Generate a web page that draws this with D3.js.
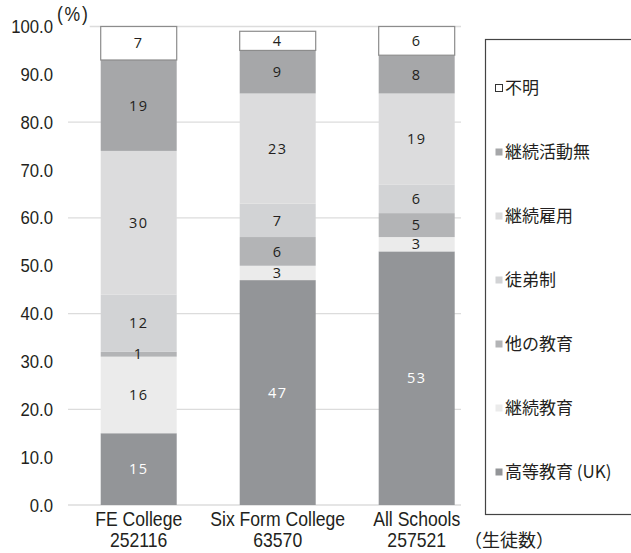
<!DOCTYPE html>
<html>
<head>
<meta charset="utf-8">
<script src="https://cdn.jsdelivr.net/npm/d3@7"></script>
<style>
  html, body { margin: 0; padding: 0; background: #fff; }
  svg { display: block; }
</style>
</head>
<body>
<svg id="chart" width="631" height="553"></svg>
<script>
// Destinations of students by type of institution (percent)
const categories = ["FE College", "Six Form College", "All Schools"];
const studentCounts = ["252116", "63570", "257521"];

// Series, stacked bottom to top
const seriesNames = ["高等教育 (UK)", "継続教育", "他の教育", "徒弟制", "継続雇用", "継続活動無", "不明"];
const higherEducation = [15, 47, 53];
const furtherEducation = [16, 3, 3];
const otherEducation = [1, 6, 5];
const apprenticeship = [12, 7, 6];
const sustainedEmployment = [30, 23, 19];
const noSustainedActivity = [19, 9, 8];
const unknownDest = [7, 4, 6];

const yTickValues = [0, 10, 20, 30, 40, 50, 60, 70, 80, 90, 100];
const gridValues = [0, 20, 40, 60, 80, 100];

const seriesValues = [higherEducation, furtherEducation, otherEducation, apprenticeship,
                      sustainedEmployment, noSustainedActivity, unknownDest];
const fills = ["#939598", "#ebebeb", "#b3b4b6", "#d2d3d5", "#dcdcdd", "#a6a7a9", "#ffffff"];
const labelColors = ["#ffffff", "#231f20", "#231f20", "#231f20", "#231f20", "#231f20", "#231f20"];

const rows = categories.map((c, i) => {
  const r = { category: c };
  seriesNames.forEach((s, k) => { r[s] = seriesValues[k][i]; });
  return r;
});

const svg = d3.select("#chart");
const textColor = "#231f20";
const sansFont = "'Liberation Sans', Arial, sans-serif";
const condense = "scale(0.88,1)";   // condensed look for the Latin axis text

const plotLeft = 68, gridRight = 461;
const x = d3.scaleBand()
  .domain(categories)
  .range([plotLeft, 487.4])
  .paddingInner(0.4532)
  .paddingOuter(0.2353);
const y = d3.scaleLinear().domain([0, 100]).range([505, 26.5]);

// Unit label (drawn first so the top gridline can start after it)
const unitGroup = svg.append("g").attr("transform", "translate(57,21)");
const unitLabel = unitGroup.append("text")
  .attr("transform", condense)
  .attr("fill", textColor)
  .attr("font-family", sansFont)
  .attr("font-size", 20)
  .attr("letter-spacing", 2)
  .text("(%)");
const unitBox = unitGroup.node().getBBox();
const topLineStart = 57 + (unitBox.x + unitBox.width) * 0.88 + 4;

// Horizontal gridlines
svg.insert("g", "g")
  .selectAll("line")
  .data(gridValues)
  .join("line")
  .attr("x1", d => d === 100 ? topLineStart : plotLeft)
  .attr("x2", gridRight)
  .attr("y1", d => y(d))
  .attr("y2", d => y(d))
  .attr("stroke", "#dcdcdc")
  .attr("stroke-width", 1.3);

// Y axis tick labels (no axis line)
const yAxis = d3.axisLeft(y)
  .tickValues(yTickValues)
  .tickFormat(d3.format(".1f"))
  .tickSize(0)
  .tickPadding(0);
const yg = svg.append("g")
  .attr("transform", "translate(53,0)")
  .call(yAxis);
yg.select(".domain").remove();
yg.selectAll("text")
  .attr("transform", condense)
  .attr("fill", textColor)
  .attr("font-family", sansFont)
  .attr("font-size", 19);

// Stacked bars
const stack = d3.stack().keys(seriesNames);
const stacked = stack(rows);

const layers = svg.append("g")
  .selectAll("g")
  .data(stacked)
  .join("g")
  .attr("fill", (d, i) => fills[i]);

layers.selectAll("rect")
  .data((d, i) => d.map(p => ({ p, i })))
  .join("rect")
  .attr("x", d => x(d.p.data.category))
  .attr("width", x.bandwidth())
  .attr("y", d => y(d.p[1]))
  .attr("height", d => y(d.p[0]) - y(d.p[1]))
  .attr("stroke", d => d.i === 6 ? "#8c8c8c" : "none")
  .attr("stroke-width", 1.2);

// Value labels in the middle of each segment
const labelData = [];
stacked.forEach((layer, i) => {
  layer.forEach(p => {
    labelData.push({ cat: p.data.category, mid: (p[0] + p[1]) / 2, v: p[1] - p[0], i });
  });
});
svg.append("g")
  .selectAll("text")
  .data(labelData)
  .join("text")
  .attr("x", d => x(d.cat) + x.bandwidth() / 2)
  .attr("y", d => y(d.mid))
  .attr("dy", "0.36em")
  .attr("text-anchor", "middle")
  .attr("font-family", "'Open Sans', sans-serif")
  .attr("font-size", 14.5)
  .attr("letter-spacing", 1.5)
  .attr("fill", d => labelColors[d.i])
  .text(d => d.v);

// Category labels with student counts
const xl = svg.append("g")
  .selectAll("g")
  .data(categories)
  .join("g")
  .attr("transform", d => `translate(${x(d) + x.bandwidth() / 2},526)`)
  .append("text")
  .attr("transform", condense)
  .attr("text-anchor", "middle")
  .attr("fill", textColor)
  .attr("font-family", sansFont)
  .attr("font-size", 20);
xl.append("tspan").attr("x", 0).text(d => d);
xl.append("tspan")
  .attr("x", 0)
  .attr("dy", 21)
  .text((d, i) => studentCounts[i]);

svg.append("text")
  .attr("x", 464)
  .attr("y", 547)
  .attr("fill", textColor)
  .attr("font-family", "'Noto Sans CJK JP', sans-serif")
  .attr("font-size", 18)
  .text("（生徒数）");

// Legend
const legend = svg.append("g");
legend.append("rect")
  .attr("x", 485.5)
  .attr("y", 39.5)
  .attr("width", 160)
  .attr("height", 475)
  .attr("fill", "#fff")
  .attr("stroke", "#444")
  .attr("stroke-width", 1.2);

const legendOrder = seriesNames.map((s, i) => i).reverse();
const ly = d3.scalePoint().domain(legendOrder).range([88, 472]);
const items = legend.selectAll("g.item")
  .data(legendOrder)
  .join("g")
  .attr("class", "item")
  .attr("transform", k => `translate(495,${ly(k)})`);
items.append("rect")
  .attr("x", 0.5)
  .attr("y", -3.5)
  .attr("width", 7)
  .attr("height", 7)
  .attr("fill", k => fills[k])
  .attr("stroke", k => k === 6 ? "#333" : "none")
  .attr("stroke-width", 1);
items.append("text")
  .attr("x", 10)
  .attr("dy", "0.35em")
  .attr("fill", textColor)
  .attr("font-family", "'Noto Sans CJK JP', sans-serif")
  .attr("font-size", 17)
  .text(k => seriesNames[k]);
</script>
</body>
</html>
